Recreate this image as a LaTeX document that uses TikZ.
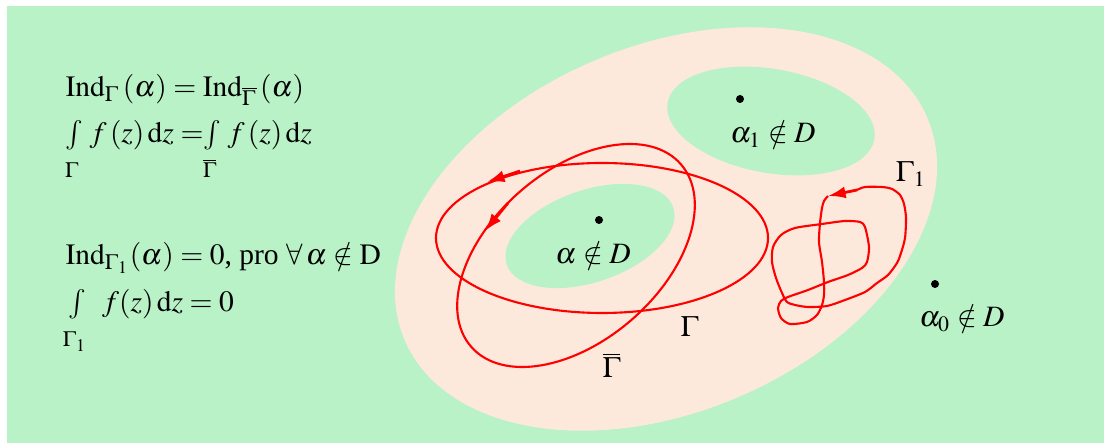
\documentclass[tikz,border=0pt]{standalone}
\usepackage{mathptmx}
\usepackage{fontspec}
\setmainfont{Liberation Serif}
\usetikzlibrary{positioning,arrows.meta}
\definecolor{bggreen}{RGB}{184,242,198}
\definecolor{peach}{RGB}{252,233,220}

\begin{document}
\begin{tikzpicture}[x=0.0125cm, y=-0.0125cm, >={Latex[length=2.2mm, width=1.5mm]},
  every node/.style={font=\fontsize{10.5}{12}\selectfont, inner sep=0pt},
  curve/.style={red, line width=0.75pt},
  pt/.style={circle, fill=black, minimum size=0.1cm, inner sep=0pt}]
  \useasboundingbox (0,0) rectangle (1104,443);

  % Background and the domain D with its two holes
  \fill[bggreen] (7,6) rectangle (1104,443);
  \fill[peach, rotate around={23:(666,229)}] (666,229) ellipse [x radius=284, y radius=183];
  \fill[bggreen, rotate around={-10:(771,121)}] (771,121) ellipse [x radius=105, y radius=52];
  \fill[bggreen, rotate around={19:(590,236)}] (590,236) ellipse [x radius=88, y radius=46];

  % Formulas on the left
  \node[anchor=base west] (ind) at (65,97) {$\mathrm{Ind}_{\Gamma}\,(\alpha)=\mathrm{Ind}_{\overline{\Gamma}}\,(\alpha)$};
  \node[anchor=base west] (intg) at (65,143) {$\int\limits_{\rule{0pt}{8pt}\Gamma}\, f\,(z)\,\mathrm{d}z =\!\!\int\limits_{\rule{0pt}{8pt}\overline{\Gamma}}\, f\,(z)\,\mathrm{d}z$};
  \node[anchor=base west] (indone) at (65,265) {$\mathrm{Ind}_{\Gamma_1}(\alpha)=0$, pro $\forall\,\alpha\notin\mathrm{D}$};
  \node[anchor=base west] (intgone) at (65,312) {$\int\limits_{\rule{0pt}{8pt}\Gamma_1}\;\, f(z)\,\mathrm{d}z=0$};

  % Points outside D
  \node[pt] (aone) at (740,99) {};
  \node[anchor=base] (aonelab) at (773,143) {$\alpha_1\notin D$};
  \node[pt] (a) at (599,220) {};
  \node[anchor=base] (alab) at (593,264) {$\alpha\notin D$};
  \node[pt] (azero) at (935,284) {};
  \node[anchor=base] (azerolab) at (962,327) {$\alpha_0\notin D$};

  % The curves Gamma and Gamma bar
  \draw[curve] (602,238) ellipse [x radius=166, y radius=75];
  \draw[curve, rotate around={41:(576,255.5)}] (576,255.5) ellipse [x radius=139, y radius=85];
  \draw[curve, line width=1pt, ->] (520,171) -- (487,182);
  \draw[curve, line width=1pt, ->] (508,203) -- (485,231);
  \node[anchor=base] (gam) at (689.5,337) {$\Gamma$};
  \node[anchor=base] (gambar) at (611.5,378) {$\overline{\Gamma}$};

  % Gamma_1
  \draw[curve] plot[smooth, tension=0.45] coordinates {
    (828,196) (824,201) (822,208) (820,223) (819,242) (822,262) (824,282)
    (824,295) (822,305) (817,315) (807,322) (790,324) (781,318) (778,308)
    (781,301) (788,297) (808,290) (828,282) (848,275) (862,268) (867,262)
    (869,247) (865,227) (860,222) (845,221) (822,224) (795,228) (781,235)
    (773,247) (772,262) (776,278) (782,293) (787,302) (795,305) (808,307)
    (827,306) (845,300) (865,292) (877,283) (888,275) (897,263) (901,253)
    (905,238) (906,218) (904,204) (900,195) (892,189) (882,187) (865,187)
    (857,190)};
  \draw[curve, line width=1pt, ->] (857,190) -- (828,196);
  \node[anchor=base] (gamone) at (911,182) {$\Gamma_1$};
\end{tikzpicture}
\end{document}
